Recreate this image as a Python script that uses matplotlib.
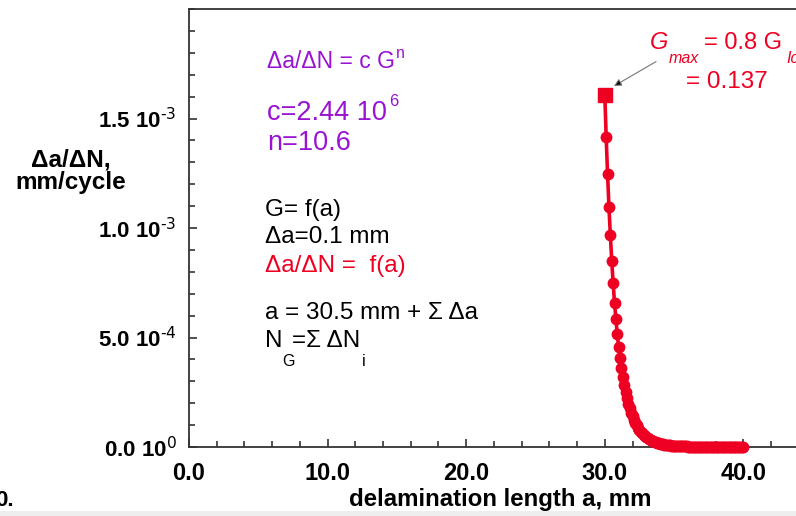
import numpy as np
import matplotlib
matplotlib.use("Agg")
import matplotlib.pyplot as plt
from matplotlib.ticker import MultipleLocator, FixedLocator, FixedFormatter
from matplotlib.patches import Rectangle

plt.rcParams['font.family'] = ['Liberation Sans', 'DejaVu Sans']
plt.rcParams['mathtext.default'] = 'regular'

# Crack growth simulation: delamination length a (mm) vs. growth rate per cycle
a_start = 30.0          # first crack length, mm
delta_a = 0.1           # crack increment, mm
rate = [1.608e-3, 1.414e-3, 1.245e-3, 1.095e-3, 0.968e-3, 0.850e-3, 0.750e-3,
        0.659e-3, 0.586e-3, 0.514e-3, 0.455e-3, 0.405e-3, 0.359e-3, 0.318e-3,
        0.283e-3, 0.251e-3, 0.223e-3, 0.198e-3, 0.176e-3, 0.157e-3, 0.140e-3,
        0.125e-3, 0.111e-3, 0.099e-3, 0.088e-3, 0.079e-3, 0.070e-3, 0.063e-3,
        0.056e-3, 0.050e-3, 0.045e-3, 0.040e-3, 0.036e-3, 0.032e-3, 0.029e-3,
        0.026e-3, 0.023e-3, 0.021e-3, 0.019e-3, 0.017e-3, 0.015e-3, 0.0136e-3,
        0.0122e-3, 0.0110e-3, 0.0099e-3, 0.0090e-3, 0.0081e-3, 0.0073e-3,
        0.0066e-3, 0.0060e-3, 0.0054e-3, 0.0049e-3, 0.0045e-3, 0.0041e-3,
        0.0037e-3, 0.0034e-3, 0.0031e-3, 0.0028e-3, 0.0026e-3, 0.0024e-3,
        0.0022e-3, 0.0020e-3, 0.0018e-3, 0.0017e-3, 0.0015e-3, 0.0014e-3,
        0.0013e-3, 0.0012e-3, 0.0011e-3, 0.0010e-3, 0.0009e-3, 0.0009e-3,
        0.0008e-3, 0.0007e-3, 0.0007e-3, 0.0006e-3, 0.0006e-3, 0.0005e-3,
        0.0005e-3, 0.0005e-3, 0.0004e-3, 0.0004e-3, 0.0004e-3, 0.0003e-3,
        0.0003e-3, 0.0003e-3, 0.0003e-3, 0.0003e-3, 0.0002e-3, 0.0002e-3,
        0.0002e-3, 0.0002e-3, 0.0002e-3, 0.0002e-3, 0.0002e-3, 0.0001e-3,
        0.0001e-3, 0.0001e-3, 0.0001e-3, 0.0001e-3, 0.0001e-3]
a_vals = np.round(a_start + delta_a * np.arange(len(rate)), 1)

y_ticks = [0.0, 5.0e-4, 1.0e-3, 1.5e-3]
y_ticklabels = [r"0.0 10$^{\text{0}}$", r"5.0 10$^{\text{-4}}$",
                r"1.0 10$^{\text{-3}}$", r"1.5 10$^{\text{-3}}$"]
x_ticks = [0, 10, 20, 30, 40]
x_ticklabels = ["0.0", "10.0", "20.0", "30.0", "40.0"]

RED = '#EE0022'
PURPLE = '#9A12D2'
W, H = 796, 516

fig = plt.figure(figsize=(W / 100, H / 100), dpi=100)
# axes extends past the right edge of the figure
left_px, right_px, top_px, bottom_px = 189, 812.7, 9, 447
ax = fig.add_axes([left_px / W, 1 - bottom_px / H,
                   (right_px - left_px) / W, (bottom_px - top_px) / H])
ax.set_xlim(0, 45)
ax.set_ylim(0, 2.0e-3)

ax.plot(a_vals, rate, color=RED, lw=2.6, marker='o', ms=7.5,
        mec=RED, mfc=RED, zorder=3, clip_on=False)
ax.plot(a_vals[:1], rate[:1], ls='none', marker='s', ms=10,
        color=RED, zorder=4, clip_on=False)

for side in ['left', 'bottom', 'top']:
    ax.spines[side].set_color('#333333')
    ax.spines[side].set_linewidth(1.3)
ax.spines['right'].set_visible(False)

ax.xaxis.set_major_locator(FixedLocator(x_ticks))
ax.xaxis.set_major_formatter(FixedFormatter(x_ticklabels))
ax.xaxis.set_minor_locator(MultipleLocator(2))
ax.yaxis.set_major_locator(FixedLocator(y_ticks))
ax.yaxis.set_major_formatter(FixedFormatter(y_ticklabels))
ax.yaxis.set_minor_locator(MultipleLocator(1e-4))
ax.tick_params(which='both', direction='in', color='#333333', width=1.2)
ax.tick_params(which='major', length=6)
ax.tick_params(which='minor', length=4)
ax.tick_params(axis='x', which='major', pad=11)
ax.tick_params(axis='y', which='major', pad=9)
for lbl in ax.get_xticklabels():
    lbl.set_fontsize(17)
    lbl.set_fontweight('bold')
for lbl in ax.get_yticklabels():
    lbl.set_fontsize(16)
    lbl.set_fontweight('bold')

def px(x, y):
    return x / W, 1 - y / H

# axis titles
fig.text(*px(71, 167), "\u0394a/\u0394N,", ha='center', va='baseline',
         fontsize=17.5, fontweight='bold')
fig.text(*px(71, 189), "mm/cycle", ha='center', va='baseline',
         fontsize=17.5, fontweight='bold')
fig.text(*px(500, 506), "delamination length a, mm", ha='center', va='baseline',
         fontsize=17.3, fontweight='bold')
fig.text(*px(14, 506), "0.", ha='right', va='baseline', fontsize=16,
         fontweight='bold')

# growth-law annotation
fig.text(*px(267, 68), "\u0394a/\u0394N = c G", color=PURPLE, fontsize=16.5,
         va='baseline')
fig.text(*px(396, 58), "n", color=PURPLE, fontsize=11.5, va='baseline')
fig.text(*px(267, 120), "c=2.44 10", color=PURPLE, fontsize=19.5,
         va='baseline')
fig.text(*px(389, 106), "6", color=PURPLE, fontsize=12, va='baseline')
fig.text(*px(267, 150), "n=10.6", color=PURPLE, fontsize=19.5, va='baseline')

fig.text(*px(265, 216), "G= f(a)", fontsize=17.5, va='baseline')
fig.text(*px(265, 243), "\u0394a=0.1 mm", fontsize=17.5, va='baseline')
fig.text(*px(265, 272), "\u0394a/\u0394N =  f(a)", color=RED, fontsize=17.5,
         va='baseline')
fig.text(*px(265, 319), "a = 30.5 mm + \u03a3 \u0394a", fontsize=17.5,
         va='baseline')
fig.text(*px(265, 347), "N", fontsize=17.5, va='baseline')
fig.text(*px(292, 347), "=\u03a3 \u0394N", fontsize=17.5, va='baseline')
fig.text(*px(282, 366), "G", fontsize=11.5, va='baseline')
fig.text(*px(362, 366), "i", fontsize=11.5, va='baseline')

# G_max callout
fig.text(*px(650, 49), "G", color=RED, fontsize=17, style='italic',
         va='baseline')
fig.text(*px(669, 63), "max", color=RED, fontsize=11.5, style='italic',
         va='baseline')
fig.text(*px(704, 49), "= 0.8 G", color=RED, fontsize=17, va='baseline')
fig.text(*px(786, 63), "Ic", color=RED, fontsize=11.5, style='italic',
         va='baseline')
fig.text(*px(686, 88), "= 0.137", color=RED, fontsize=17.5, va='baseline')
ax.annotate("", xy=(30.66, 1.648e-3), xytext=(33.7, 1.76e-3),
            arrowprops=dict(arrowstyle='-|>', ec='#777777', fc='black',
                            lw=0.8, mutation_scale=11, shrinkA=0, shrinkB=0),
            annotation_clip=False)

# light strip along the bottom edge
fig.patches.append(Rectangle((0, 0), 1, 5 / H, transform=fig.transFigure,
                             facecolor='#EEEEEE', edgecolor='none', zorder=-1))

fig.savefig("out.png", dpi=100)
